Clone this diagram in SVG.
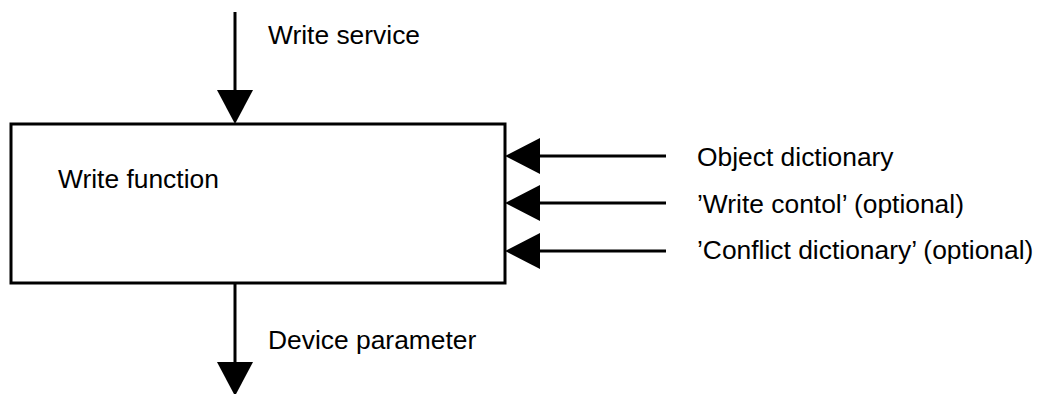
<svg xmlns="http://www.w3.org/2000/svg" width="1042" height="394" viewBox="0 0 1042 394">
<style>
text{font-family:"Liberation Sans",Arial,sans-serif;font-size:26.4px;fill:#000}
.ln{stroke:#000;stroke-width:3;fill:none}
.hd{fill:#000}
</style>
<rect width="1042" height="394" fill="#fff"/>
<g id="write-function">
<rect x="11" y="124" width="494" height="159" fill="#fff" stroke="#000" stroke-width="3"/>
<text x="58" y="188">Write function</text>
</g>
<g id="labels">
<text x="268" y="44">Write service</text>
<text x="268" y="349">Device parameter</text>
<text x="697" y="166">Object dictionary</text>
<text x="697" y="213">’Write contol’ (optional)</text>
<text x="697" y="259">’Conflict dictionary’ (optional)</text>
</g>
<g id="connectors">
<line class="ln" x1="235" y1="12" x2="235" y2="92"/>
<polygon class="hd" points="217,90 253,90 235,124"/>
<line class="ln" x1="235" y1="283" x2="235" y2="365"/>
<polygon class="hd" points="217,362 253,362 235,396"/>
<line class="ln" x1="538" y1="156" x2="666" y2="156"/>
<polygon class="hd" points="505,156 540,138 540,174"/>
<line class="ln" x1="538" y1="203" x2="666" y2="203"/>
<polygon class="hd" points="505,203 540,185 540,221"/>
<line class="ln" x1="538" y1="251" x2="666" y2="251"/>
<polygon class="hd" points="505,251 540,233 540,269"/>
</g>
</svg>
